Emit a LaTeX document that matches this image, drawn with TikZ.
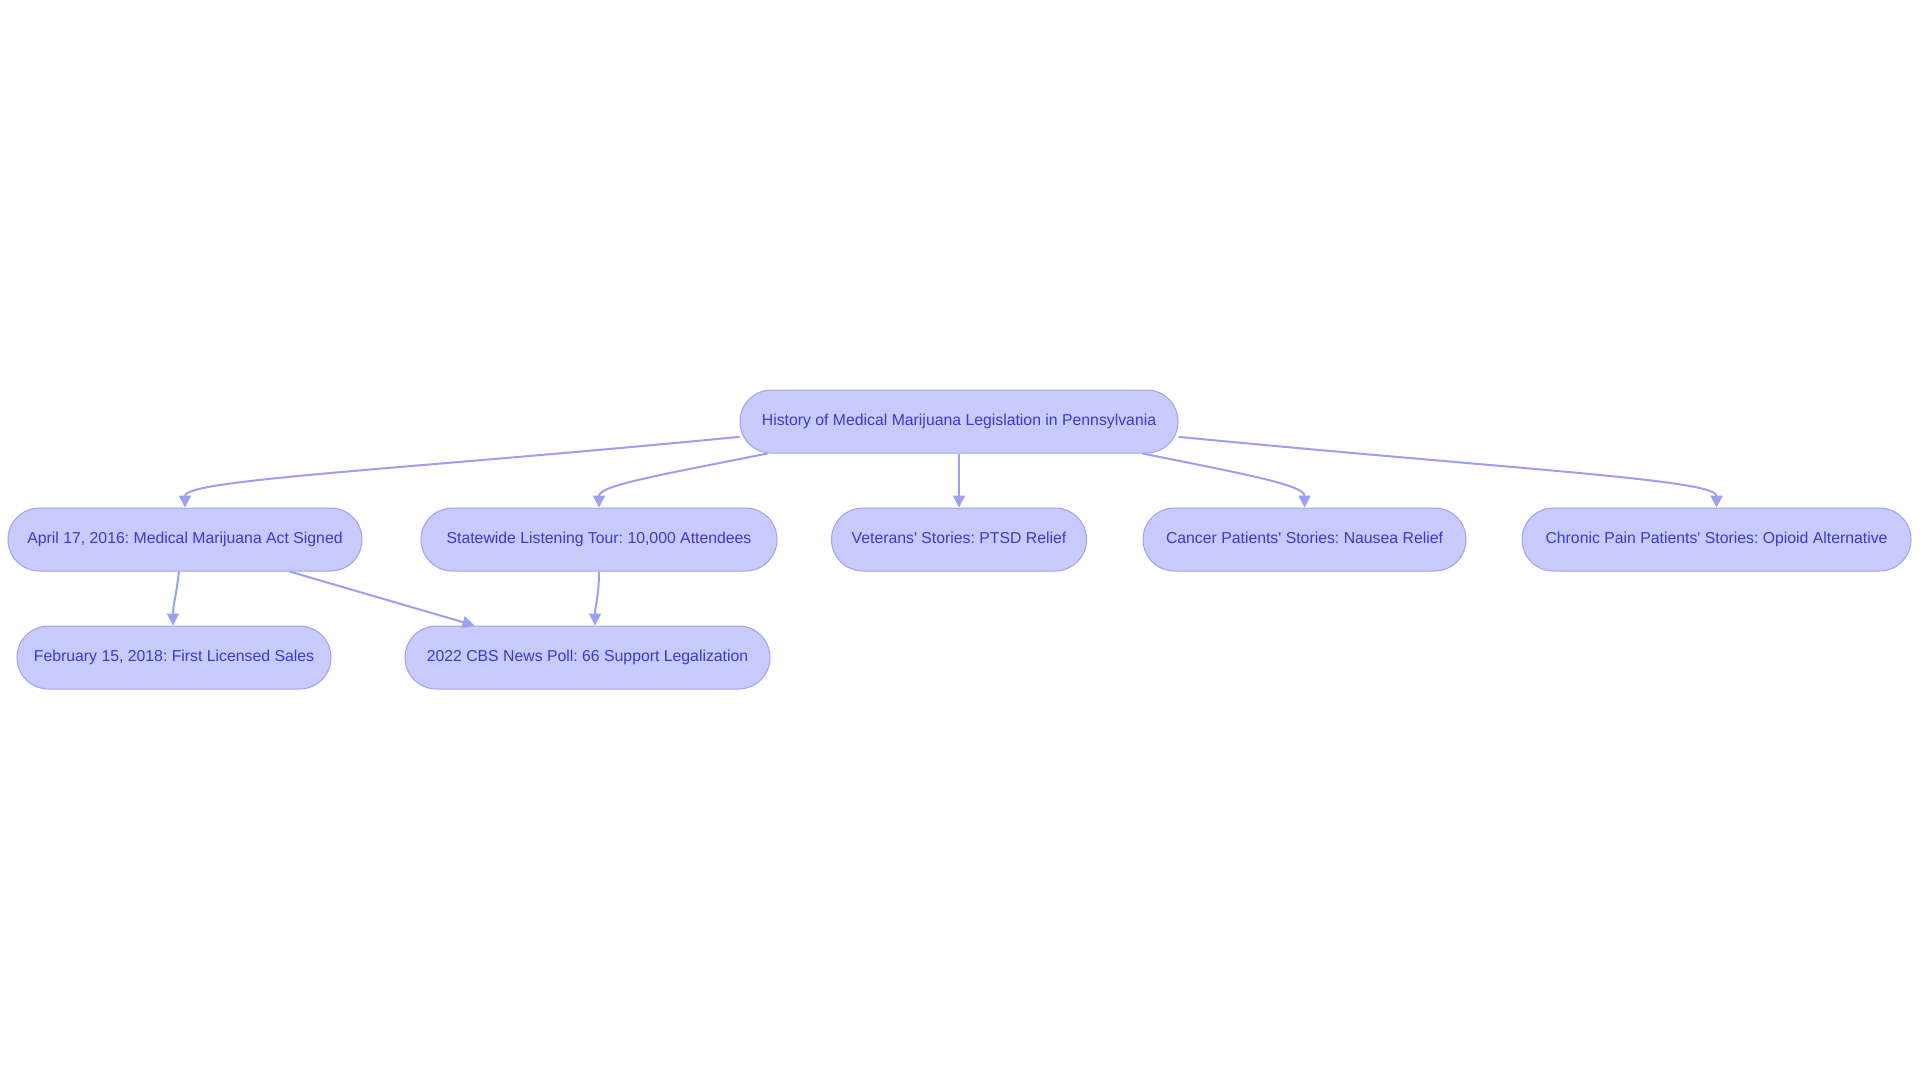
\documentclass[tikz,border=0pt]{standalone}
\usepackage{fontspec}
\setmainfont{Liberation Sans}
\usetikzlibrary{arrows.meta}
\definecolor{boxfill}{RGB}{201,202,252}
\definecolor{boxline}{RGB}{160,163,240}
\definecolor{edgeline}{RGB}{155,160,240}
\definecolor{boxtext}{RGB}{58,58,207}
\frenchspacing

\begin{document}
\begin{tikzpicture}[x=0.5pt,y=-0.5pt,
  box/.style={draw=boxline,fill=boxfill,text=boxtext,line width=0.5pt,
    rounded corners=15.7pt,minimum height=31.5pt,inner sep=0pt,
    text height=5.8pt,text depth=1.6pt,font=\fontsize{7.9}{9}\selectfont},
  edge/.style={draw=edgeline,line width=1pt,-{Triangle[length=6pt,width=6pt]}}]
\def\ROWA{539.5};\def\ROWB{657.5};
\useasboundingbox (0,0) rectangle (1920,1083);
\node[box,minimum width=219pt] (hist) at (959,421.5) {History of Medical Marijuana Legislation in Pennsylvania};
\node[box,minimum width=177pt] (act) at (185,\ROWA) {April 17, 2016: Medical Marijuana Act Signed};
\node[box,minimum width=178pt] (tour) at (599,\ROWA) {Statewide Listening Tour: 10,000 Attendees};
\node[box,minimum width=127.5pt] (vets) at (959,\ROWA) {Veterans\textquotesingle{} Stories: PTSD Relief};
\node[box,minimum width=161.5pt] (cancer) at (1304.5,\ROWA) {Cancer Patients\textquotesingle{} Stories: Nausea Relief};
\node[box,minimum width=194.5pt] (pain) at (1716.5,\ROWA) {Chronic Pain Patients\textquotesingle{} Stories: Opioid Alternative};
\node[box,minimum width=157pt] (sales) at (174,\ROWB) {February 15, 2018: First Licensed Sales};
\node[box,minimum width=182.5pt] (poll) at (587.5,\ROWB) {2022 CBS News Poll: 66 Support Legalization};
\draw[edge] (hist.184.6) .. controls +(-340,33) and +(0,-28) .. (act.north);
\draw[edge] ([xshift=14pt]hist.south west) .. controls +(-110,22) and +(0,-22) .. (tour.north);
\draw[edge] (hist.south) -- (vets.north);
\draw[edge] ([xshift=-18pt]hist.south east) .. controls +(110,22) and +(0,-22) .. (cancer.north);
\draw[edge] (hist.-4.6) .. controls +(340,33) and +(0,-28) .. (pain.north);
\draw[edge] ([xshift=-3pt]act.south) .. controls +(-3,25) and +(0,-20) .. ([xshift=-0.5pt]sales.north);
\draw[edge] ([xshift=-36.5pt]act.south east) -- ([xshift=35pt]poll.north west);
\draw[edge] (tour.south) .. controls +(0,25) and +(0,-20) .. ([xshift=3.75pt]poll.north);
\end{tikzpicture}
\end{document}
